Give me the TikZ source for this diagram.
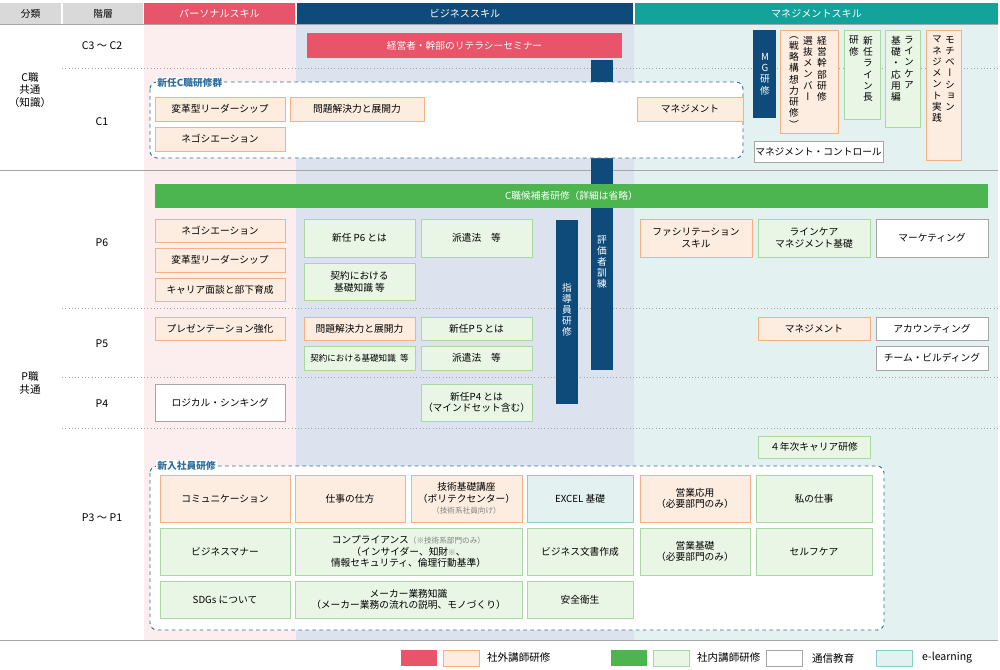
\documentclass[tikz,border=0pt]{standalone}
\usepackage{fontspec}
\setmainfont{Noto Sans CJK JP}
\newfontfamily\tatefont[RawFeature=+vert]{Noto Sans CJK JP}
\usetikzlibrary{positioning}
\definecolor{hdgray}{HTML}{D9D9D9}
\definecolor{pred}{HTML}{E8546A}
\definecolor{bblue}{HTML}{0E4B7A}
\definecolor{mteal}{HTML}{14A39A}
\definecolor{pbg}{HTML}{FCEDEE}
\definecolor{bbg}{HTML}{DDE3EE}
\definecolor{mbg}{HTML}{E3F2F0}
\definecolor{ofill}{HTML}{FDEDE0}
\definecolor{oline}{HTML}{F4B183}
\definecolor{gfill}{HTML}{E9F5E5}
\definecolor{gline}{HTML}{A9D9A0}
\definecolor{gsolid}{HTML}{4CB54F}
\definecolor{tfill}{HTML}{E3F2F0}
\definecolor{tline}{HTML}{8ACFC7}
\definecolor{dashblue}{HTML}{2D6E9C}
\newcommand\cell[7]{%
  \node[#2,minimum width={(#5-#3)*0.03cm},minimum height={(#6-#4)*0.03cm}]
    (#1) at ({(#3+#5)/2},{(#4+#6)/2}) {#7};}
\begin{document}
\begin{tikzpicture}[x=0.03cm,y=-0.03cm,font=\fontsize{8.3}{10}\selectfont,
  outside/.style={draw=oline,fill=ofill,inner sep=1pt,align=center},
  inside/.style={draw=gline,fill=gfill,inner sep=1pt,align=center},
  mail/.style={draw=gray!70,fill=white,inner sep=1pt,align=center},
  elearn/.style={draw=tline,fill=tfill,inner sep=1pt,align=center},
  darkbar/.style={fill=bblue,text=white,inner sep=0pt,align=center},
  groupbox/.style={draw=dashblue,dashed,thick,rounded corners=6pt,fill=white},
  grouplabel/.style={fill=white,text=dashblue,font=\fontsize{8.3}{10}\selectfont\bfseries,inner sep=1pt},
  headtext/.style={text=white,font=\fontsize{8.6}{10}\selectfont},
  rowlabel/.style={align=center,font=\fontsize{9}{11}\selectfont}]
  \useasboundingbox (0,0) rectangle (1000,670);
  \fill[white] (0,0) rectangle (1000,670);

  %% column backgrounds
  \fill[pbg] (144,24) rectangle (296,640);
  \fill[bbg] (296,24) rectangle (634,640);
  \fill[mbg] (634,24) rectangle (998,640);

  %% header
  \cell{hcls}{fill=hdgray}{0}{3}{61}{24}{分類}
  \cell{hlvl}{fill=hdgray}{63}{3}{143}{24}{階層}
  \cell{hper}{fill=pred,headtext}{144}{3}{295}{24}{パーソナルスキル}
  \cell{hbiz}{fill=bblue,headtext}{297}{3}{633}{24}{ビジネススキル}
  \cell{hman}{fill=mteal,headtext}{635}{3}{998}{24}{マネジメントスキル}

  %% rules
  \draw[gray!70] (0,24) -- (998,24);
  \draw[gray!70] (0,170) -- (998,170);
  \draw[gray!70] (0,640) -- (998,640);
  \foreach \yy in {68,308,377,428}
    \draw[gray!70,dotted,thick] (62,\yy) -- (998,\yy);

  %% row labels
  \node[rowlabel] (cjob) at (30,90) {C職\\共通\\（知識）};
  \node[rowlabel] (pjob) at (30,383) {P職\\共通};
  \node[rowlabel] (lc3) at (102,46) {C3 ～ C2};
  \node[rowlabel] (lc1) at (102,122) {C1};
  \node[rowlabel] (lp6) at (102,243) {P6};
  \node[rowlabel] (lp5) at (102,344) {P5};
  \node[rowlabel] (lp4) at (102,404) {P4};
  \node[rowlabel] (lp3) at (102,518) {P3 ～ P1};

  %% C grades
  \cell{lit}{fill=pred,text=white}{307}{33}{622}{58}{経営者・幹部のリテラシーセミナー}
  \cell{evalbar}{darkbar}{591}{60}{613}{370}{}
  \node[text=white,align=center,font=\fontsize{8.3}{9.4}\selectfont\tatefont] (evaltxt) at (602,262) {評\\価\\者\\訓\\練};
  \draw[groupbox] (150,82) rectangle (743,158);
  \node[grouplabel,anchor=west] (newc) at (156,83) {新任C職研修群};
  \cell{c1lead}{outside}{155}{97}{285}{121}{変革型リーダーシップ}
  \cell{c1prob}{outside}{290}{97}{424}{121}{問題解決力と展開力}
  \cell{c1mgmt}{outside}{637}{97}{743}{121}{マネジメント}
  \cell{c1nego}{outside}{155}{127}{285}{151}{ネゴシエーション}

  \cell{mg}{darkbar}{753}{30}{776}{118}{}
  \node[text=white,align=center,font=\fontsize{8.3}{9.6}\selectfont\tatefont] (mgtxt) at (765,74) {M\\G\\研\\修};
  \cell{exec}{outside}{780}{30}{838}{133}{}
  \cell{newline}{inside}{844}{30}{880}{119}{}
  \cell{lcare}{inside}{885}{30}{920}{127}{}
  \cell{motiv}{outside}{926}{30}{961}{160}{}
  \begin{scope}[every node/.style={anchor=north,align=center,inner sep=0pt,font=\fontsize{8.3}{9.6}\selectfont\tatefont}]
    \node (exec1) at (822,36) {経\\営\\幹\\部\\研\\修};
    \node (exec2) at (808,36) {選\\抜\\メ\\ン\\バ\\ー};
    \node (exec3) at (794,36) {（\\戦\\略\\構\\想\\力\\研\\修\\）};
    \node (nl1) at (868,36) {新\\任\\ラ\\イ\\ン\\長};
    \node (nl2) at (854,36) {研\\修};
    \node (lc1t) at (909,36) {ラ\\イ\\ン\\ケ\\ア};
    \node (lc2t) at (896,36) {基\\礎\\・\\応\\用\\編};
    \node (mo1) at (950,36) {モ\\チ\\ベ\\ー\\シ\\ョ\\ン};
    \node (mo2) at (937,36) {マ\\ネ\\ジ\\メ\\ン\\ト\\実\\践};
  \end{scope}
  \cell{mctrl}{mail}{757}{141}{880}{162}{マネジメント・コントロール}

  %% P grades
  \cell{guidebar}{darkbar}{556}{220}{578}{404}{}
  \node[text=white,align=center,font=\fontsize{8.3}{9.4}\selectfont\tatefont] (guidetxt) at (567,310) {指\\導\\員\\研\\修};
  \cell{cand}{fill=gsolid,text=white}{155}{184}{988}{208}{C職候補者研修（詳細は省略）}

  \cell{p6nego}{outside}{155}{219}{285}{242}{ネゴシエーション}
  \cell{p6lead}{outside}{155}{248}{285}{272}{変革型リーダーシップ}
  \cell{p6car}{outside}{155}{278}{285}{301}{キャリア面談と部下育成}
  \cell{p6new}{inside}{304}{219}{415}{257}{新任 P6 とは}
  \cell{p6disp}{inside}{421}{219}{532}{257}{派遣法\quad 等}
  \cell{p6cont}{inside}{304}{263}{415}{300}{契約における\\基礎知識 等}
  \cell{p6fac}{outside}{640}{219}{752}{257}{ファシリテーション\\スキル}
  \cell{p6lc}{inside}{758}{219}{870}{257}{ラインケア\\マネジメント基礎}
  \cell{p6mkt}{mail}{876}{219}{988}{257}{マーケティング}

  \cell{p5pres}{outside}{155}{317}{285}{340}{プレゼンテーション強化}
  \cell{p5prob}{outside}{304}{317}{415}{340}{問題解決力と展開力}
  \cell{p5new}{inside}{421}{317}{532}{340}{新任P５とは}
  \cell{p5cont}{inside,font=\fontsize{7.3}{9}\selectfont}{304}{346}{415}{370}{契約における基礎知識\enspace 等}
  \cell{p5disp}{inside}{421}{346}{532}{370}{派遣法\quad 等}
  \cell{p5mgmt}{outside}{758}{317}{870}{340}{マネジメント}
  \cell{p5acc}{mail}{876}{317}{988}{340}{アカウンティング}
  \cell{p5team}{mail}{876}{346}{988}{370}{チーム・ビルディング}

  \cell{p4logic}{mail}{155}{384}{285}{421}{ロジカル・シンキング}
  \cell{p4new}{inside}{421}{384}{532}{421}{新任P4 とは\\（マインドセット含む）}
  \cell{y4car}{inside}{758}{436}{870}{458}{４年次キャリア研修}

  %% new employees
  \draw[groupbox] (150,466) rectangle (884,630);
  \node[grouplabel,anchor=west] (newemp) at (156,466) {新入社員研修};
  \cell{comm}{outside}{160}{475}{290}{522}{コミュニケーション}
  \cell{work}{outside}{295}{475}{405}{522}{仕事の仕方}
  \cell{tech}{outside}{411}{475}{522}{522}{技術基礎講座\\（ポリテクセンター）\\{\color{gray}\fontsize{6.5}{8}\selectfont（技術系社員向け）}}
  \cell{excel}{elearn}{527}{475}{633}{522}{EXCEL 基礎}
  \cell{salesadv}{outside}{640}{475}{750}{522}{営業応用\\（必要部門のみ）}
  \cell{mywork}{inside}{756}{475}{872}{522}{私の仕事}
  \cell{manner}{inside}{160}{528}{290}{575}{ビジネスマナー}
  \cell{compl}{inside}{295}{528}{522}{575}{コンプライアンス{\color{gray}\fontsize{6.5}{8}\selectfont（※技術系部門のみ）}\\（インサイダー、知財{\color{gray}\fontsize{6.5}{8}\selectfont※}、\\情報セキュリティ、倫理行動基準）}
  \cell{docs}{inside}{527}{528}{633}{575}{ビジネス文書作成}
  \cell{salesbas}{inside}{640}{528}{750}{575}{営業基礎\\（必要部門のみ）}
  \cell{selfcare}{inside}{756}{528}{872}{575}{セルフケア}
  \cell{sdgs}{inside}{160}{581}{290}{618}{SDGs について}
  \cell{maker}{inside}{295}{581}{522}{618}{メーカー業務知識\\（メーカー業務の流れの説明、モノづくり）}
  \cell{safety}{inside}{527}{581}{633}{618}{安全衛生}

  %% legend
  \cell{lgred}{fill=pred}{401}{650}{437}{666}{}
  \cell{lgora}{outside}{443}{650}{479}{666}{}
  \node[anchor=west,font=\fontsize{9}{11}\selectfont] (lgout) at (483,658) {社外講師研修};
  \cell{lggrn}{fill=gsolid}{611}{650}{647}{666}{}
  \cell{lglgr}{inside}{653}{650}{689}{666}{}
  \node[anchor=west,font=\fontsize{9}{11}\selectfont] (lgin) at (693,658) {社内講師研修};
  \cell{lgwht}{mail}{766}{650}{802}{666}{}
  \node[anchor=west,font=\fontsize{9}{11}\selectfont] (lgmail) at (808,658) {通信教育};
  \cell{lgtel}{elearn}{876}{650}{912}{666}{}
  \node[anchor=west,font=\fontsize{9}{11}\selectfont] (lgel) at (918,658) {e-learning};
\end{tikzpicture}
\end{document}
